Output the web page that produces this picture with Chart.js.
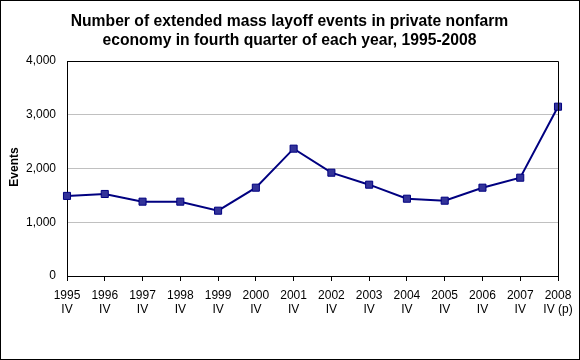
<!DOCTYPE html>
<html>
<head>
<meta charset="utf-8">
<script src="https://cdn.jsdelivr.net/npm/chart.js@4"></script>
<style>
html,body{margin:0;padding:0;background:#fff;}
#wrap{width:580px;height:360px;position:relative;}
</style>
</head>
<body>
<div id="wrap"><canvas id="c" width="580" height="360"></canvas></div>
<script>
const years = ["1995","1996","1997","1998","1999","2000","2001","2002","2003","2004","2005","2006","2007","2008"];
const quarters = ["IV","IV","IV","IV","IV","IV","IV","IV","IV","IV","IV","IV","IV","IV (p)"];
const events = [1490, 1526, 1383, 1383, 1215, 1643, 2369, 1922, 1699, 1438, 1401, 1643, 1829, 3150];
const yTicks = [0, 1000, 2000, 3000, 4000];
const titleLines = ["Number of extended mass layoff events in private nonfarm", "economy in fourth quarter of each year, 1995-2008"];
const yTitle = "Events";

const labels = years.map((y, i) => [y, quarters[i]]);
const FONT = "'Liberation Sans', Arial, sans-serif";

const frame = {
  id: 'frame',
  afterDraw(chart) {
    const ctx = chart.ctx, a = chart.chartArea;
    ctx.save();
    ctx.strokeStyle = '#000';
    ctx.lineWidth = 1;
    ctx.beginPath();
    ctx.moveTo(Math.round(a.left) + 0.5, Math.round(a.top) + 0.5);
    ctx.lineTo(Math.round(a.right) + 0.5, Math.round(a.top) + 0.5);
    ctx.lineTo(Math.round(a.right) + 0.5, Math.round(a.bottom) + 0.5);
    ctx.stroke();
    ctx.strokeRect(0.5, 0.5, chart.width - 1, chart.height - 1);
    // chart title
    ctx.fillStyle = '#000';
    ctx.textAlign = 'center';
    ctx.textBaseline = 'alphabetic';
    ctx.font = "bold 15.7px " + FONT;
    titleLines.forEach((t, i) => ctx.fillText(t, 289.5, 26 + i * 18.7));
    // y axis title
    ctx.textBaseline = 'middle';
    ctx.font = "bold 12px " + FONT;
    ctx.translate(15, 167);
    ctx.rotate(-Math.PI / 2);
    ctx.fillText(yTitle, 0, 0);
    ctx.restore();
  }
};

new Chart(document.getElementById('c'), {
  type: 'line',
  data: {
    labels: labels,
    datasets: [{
      data: events,
      borderColor: '#000080',
      borderWidth: 2,
      backgroundColor: '#333399',
      pointStyle: 'rect',
      pointRadius: 5,
      pointBorderWidth: 1,
      pointBorderColor: '#000080',
      pointBackgroundColor: '#333399',
      tension: 0,
      clip: false
    }]
  },
  options: {
    responsive: false,
    animation: false,
    layout: { padding: { top: 61, right: 22, bottom: 0, left: 0 } },
    plugins: {
      legend: { display: false },
      tooltip: { enabled: false },
      title: { display: false }
    },
    scales: {
      x: {
        offset: false,
        afterFit(s) { s.height = 84; },
        grid: { drawOnChartArea: false, drawTicks: true, tickLength: 5, color: '#000' },
        border: { color: '#000', width: 1 },
        ticks: { color: '#000', font: { family: FONT, size: 12, lineHeight: 1.2 }, maxRotation: 0, autoSkip: false, padding: 7 }
      },
      y: {
        min: 0, max: 4000,
        afterFit(s) { s.width = 67; },
        afterBuildTicks(s) { s.ticks = yTicks.map(v => ({ value: v })); },
        grid: { color: '#c0c0c0', drawTicks: false },
        border: { color: '#000', width: 1 },
        ticks: { color: '#000', font: { family: FONT, size: 12 }, padding: 11,
                 callback: v => v.toLocaleString('en-US') }
      }
    }
  },
  plugins: [frame]
});
</script>
</body>
</html>
